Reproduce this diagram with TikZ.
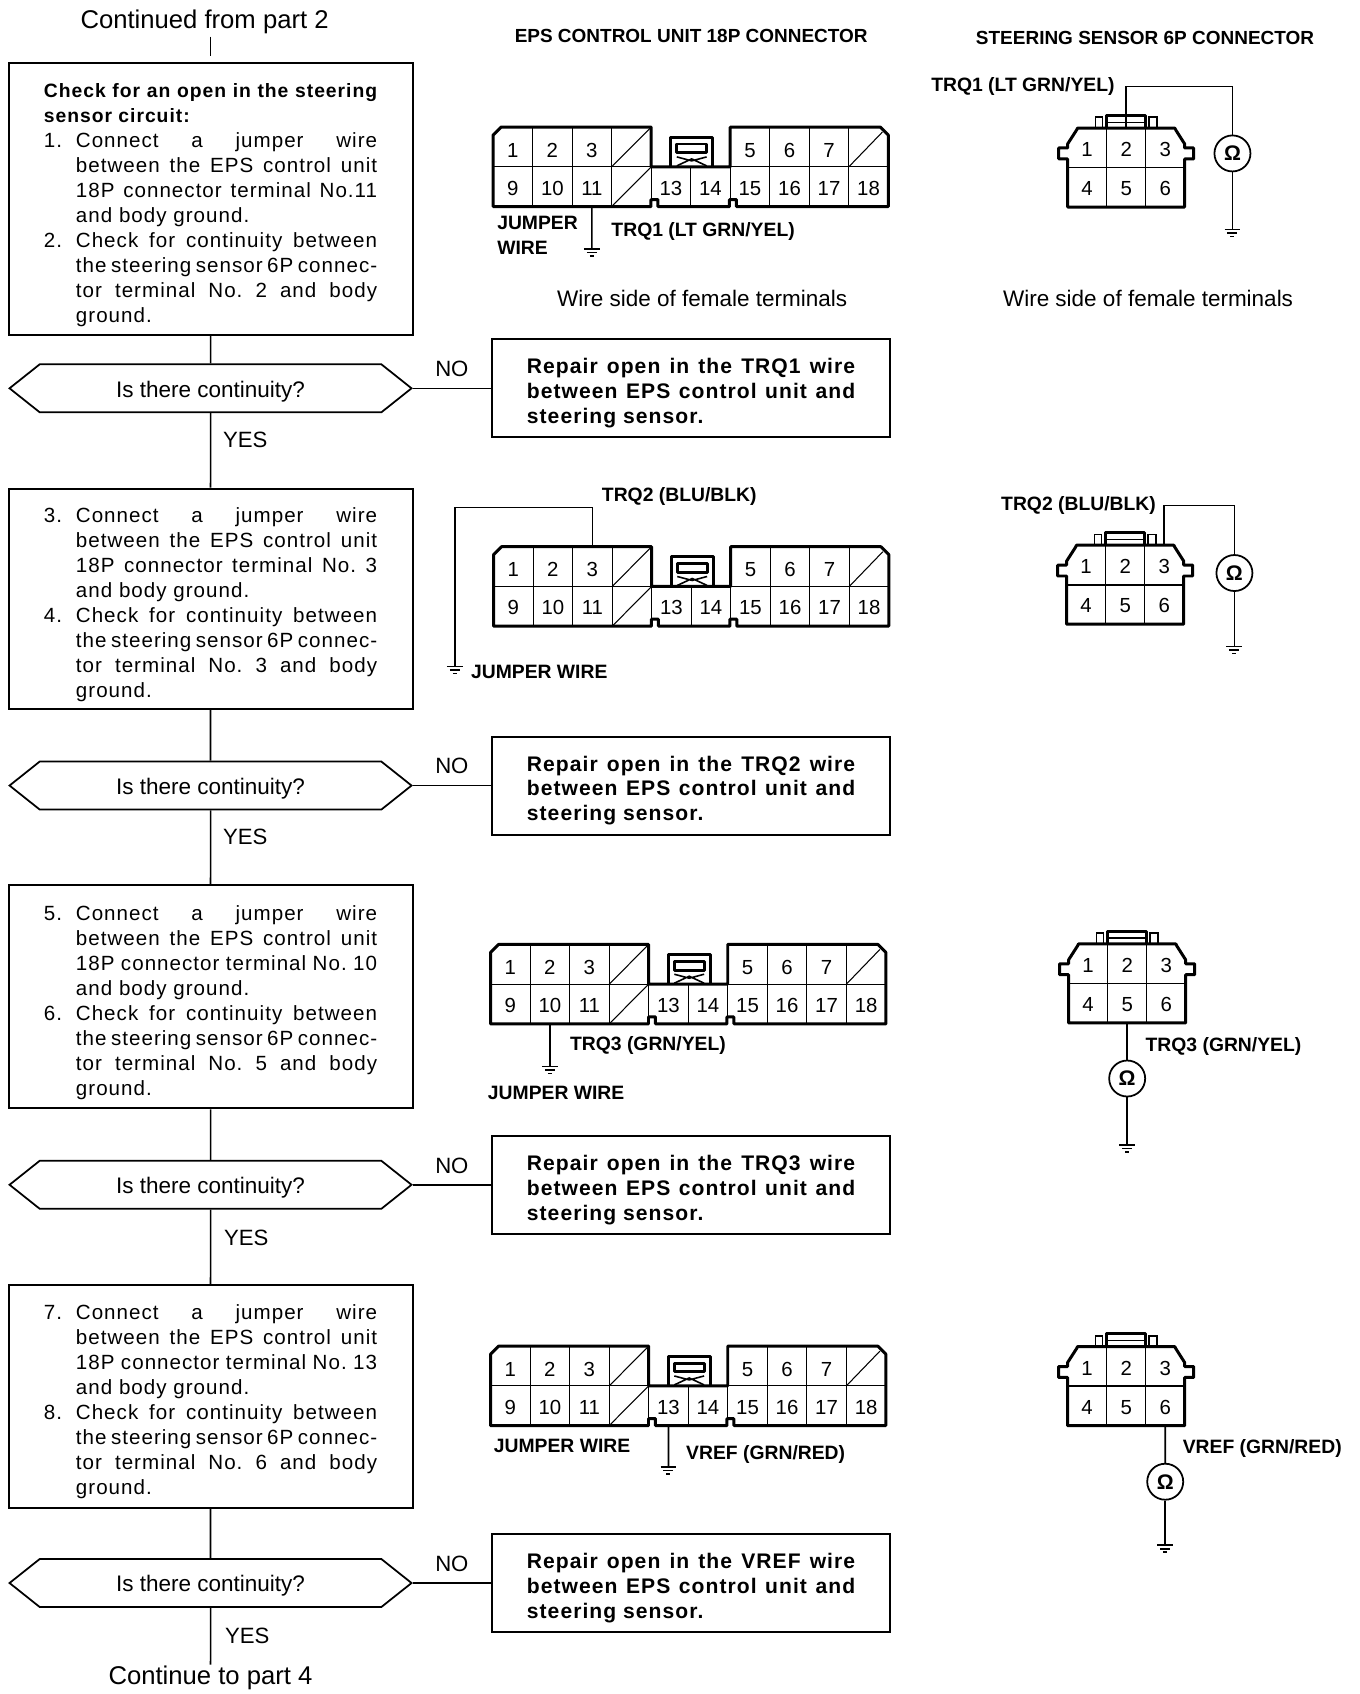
\documentclass[tikz,border=0pt]{standalone}
\usepackage{fontspec}
\setmainfont{Liberation Sans}
\newfontfamily\stepfont[LetterSpace=5]{Liberation Sans}
\usetikzlibrary{shapes.symbols}
\newcommand{\fitl}[1]{\makebox[85.7pt][s]{#1}}
\newcommand{\fith}[1]{\makebox[94.8pt][s]{\fontsize{5.5}{7.11}\selectfont\bfseries #1}}
\newcommand{\fitr}[1]{\makebox[93.4pt][s]{#1}}
\newenvironment{steplines}{\begin{tabular}{@{}p{9.1pt}@{}l@{}}\noalign{\vskip3.4pt}}{\end{tabular}}
\newenvironment{repairlines}{\begin{tabular}{@{}l@{}}\noalign{\vskip3.1pt}}{\end{tabular}}
\tikzset{
	wire/.style={line width=0.45pt},
	frame/.style={line width=0.85pt, line join=round},
	fine/.style={line width=0.3pt},
	stepbox/.style={draw, line width=0.55pt, minimum width=4.04cm, inner sep=0pt,
		font=\stepfont\fontsize{5.85}{7.11}\selectfont\frenchspacing},
	repairbox/.style={draw, line width=0.55pt, minimum width=3.98cm, minimum height=0.98cm, inner sep=0pt,
		font=\stepfont\fontsize{6}{7.11}\selectfont\bfseries\frenchspacing},
	askbox/.style={draw, line width=0.5pt, signal, signal to=west and east, signal pointer angle=77,
		minimum width=4.02cm, minimum height=0.48cm, inner sep=0pt, text height=5pt, text depth=0pt,
		font=\fontsize{6.4}{8}\selectfont},
	flowlbl/.style={font=\fontsize{6.3}{8}\selectfont, inner sep=0pt},
	endlbl/.style={font=\fontsize{7.3}{9}\selectfont, inner sep=0pt},
	lbl/.style={font=\fontsize{5.5}{7.2}\selectfont\bfseries, inner sep=0pt, yshift=-0.55pt},
	headlbl/.style={font=\fontsize{5.4}{7.2}\selectfont\bfseries, inner sep=0pt},
	sidelbl/.style={font=\fontsize{6.4}{8}\selectfont, inner sep=0pt},
	cell/.style={minimum width=0.39cm, minimum height=0.395cm, inner sep=0pt,
		font=\fontsize{5.8}{7}\selectfont},
	ohm/.style={draw, circle, line width=0.5pt, minimum size=0.36cm, inner sep=0pt,
		font=\fontsize{6}{7}\selectfont\bfseries},
	gnd/.pic={\draw[wire] (-0.08,0) -- (0.08,0) (-0.05,0.035) -- (0.05,0.035) (-0.02,0.07) -- (0.02,0.07);}
}
% 18P connector: name, left, top
\newcommand{\epsconn}[3]{
	\begin{scope}[shift={(#2,#3)}]
		\foreach \pin/\col in {1/0,2/1,3/2,5/6,6/7,7/8}
			\node[cell] (#1p\pin) at ({0.199+\col*0.398},0.2) {\raisebox{-2.93pt}[0pt][0pt]{\pin}};
		\foreach \pin/\col in {9/0,10/1,11/2,13/4,14/5,15/6,16/7,17/8,18/9}
			\node[cell] (#1p\pin) at ({0.199+\col*0.398},0.6) {\raisebox{-2.4pt}[0pt][0pt]{\pin}};
		\foreach \col in {1,2,3,7,8,9}
			\draw[fine] ({\col*0.398},0) -- ({\col*0.398},0.4);
		\foreach \col in {1,...,9}
			\draw[fine] ({\col*0.398},0.4) -- ({\col*0.398},0.8);
		\draw[fine] (0,0.4) -- (3.98,0.4);
		\draw[fine] (1.194,0.4) -- (1.592,0) (1.194,0.8) -- (1.592,0.4) (3.582,0.4) -- (3.92,0.05);
		\draw[frame] (0,0.8) -- (0,0.08) -- (0.08,0) -- (1.592,0) -- (1.592,0.4) -- (2.388,0.4) -- (2.388,0)
			-- (3.9,0) -- (3.98,0.08) -- (3.98,0.8) -- (2.45,0.8) -- (2.45,0.73) -- (2.38,0.73) -- (2.38,0.8)
			-- (1.66,0.8) -- (1.66,0.73) -- (1.59,0.73) -- (1.59,0.8) -- cycle;
		\draw[frame] (1.79,0.4) -- (1.79,0.1) -- (2.21,0.1) -- (2.21,0.4);
		\draw[frame] (1.85,0.17) rectangle (2.15,0.26);
		\draw[wire] (1.85,0.39) -- (2,0.32) -- (2.15,0.39) (1.85,0.3) -- (2,0.34) -- (2.15,0.3);
	\end{scope}
}
% 6P connector: name, left, top
\newcommand{\sensconn}[3]{
	\begin{scope}[shift={(#2,#3)}]
		\foreach \pin/\col in {1/0,2/1,3/2}
			\node[cell] (#1p\pin) at ({0.197+\col*0.393},0.199) {\raisebox{-2.5pt}[0pt][0pt]{\pin}};
		\foreach \pin/\col in {4/0,5/1,6/2}
			\node[cell] (#1p\pin) at ({0.197+\col*0.393},0.597) {\raisebox{-2.4pt}[0pt][0pt]{\pin}};
		\draw[fine] (0.393,0) -- (0.393,0.795) (0.786,0) -- (0.786,0.795);
		\draw[wire] (0,0.398) -- (1.179,0.398);
		\draw[frame] (0,0.795) -- (0,0.31) -- (-0.09,0.31) -- (-0.09,0.2) -- (0,0.2) -- (0,0.16) -- (0.09,0.02) -- (0.1,0)
			-- (1.08,0) -- (1.09,0.02) -- (1.179,0.16) -- (1.179,0.2) -- (1.269,0.2) -- (1.269,0.31) -- (1.179,0.31)
			-- (1.179,0.795) -- cycle;
		\draw[frame] (0.393,0) -- (0.393,-0.13) -- (0.786,-0.13) -- (0.786,0);
		\draw[fine] (0.393,-0.06) -- (0.786,-0.06);
		\draw[wire] (0.28,0) -- (0.28,-0.11) -- (0.35,-0.11) -- (0.35,0) (0.82,0) -- (0.82,-0.11) -- (0.9,-0.11) -- (0.9,0);
	\end{scope}
}
\begin{document}
\begin{tikzpicture}[x=0.9931cm, y=-0.9931cm]
	\useasboundingbox (0,0) rectangle (13.6945,17.0577);
	% left column
	\node[endlbl] (from) at (2.06,0.22) {Continued from part 2};
	\coordinate (start) at (2.12,0.37);
	\node[stepbox, minimum height=2.72cm] (S1) at (2.12,2) {\begin{steplines}
		\multicolumn{2}{@{}l@{}}{\fith{Check for an open in the steering}}\\
		\multicolumn{2}{@{}l@{}}{\fontsize{5.5}{7.11}\selectfont\bfseries sensor circuit:}\\
		1. & \fitl{Connect a jumper wire}\\
		& \fitl{between the EPS control unit}\\
		& \fitl{18P connector terminal No.11}\\
		& and body ground.\\
		2. & \fitl{Check for continuity between}\\
		& \fitl{the steering sensor 6P connec-}\\
		& \fitl{tor terminal No. 2 and body}\\
		& ground.
	\end{steplines}};
	\node[askbox] (A1) at (2.12,3.91) {Is there continuity?};
	\node[flowlbl] (Y1) at (2.47,4.43) {YES};
	\node[flowlbl] (N1) at (4.55,3.71) {NO};
	\node[repairbox] (R1) at (6.958,3.91) {\begin{repairlines}
		\fitr{Repair open in the TRQ1 wire}\\
		\fitr{between EPS control unit and}\\
		steering sensor.
	\end{repairlines}};
	\node[stepbox, minimum height=2.205cm] (S2) at (2.12,6.03) {\begin{steplines}
		3. & \fitl{Connect a jumper wire}\\
		& \fitl{between the EPS control unit}\\
		& \fitl{18P connector terminal No. 3}\\
		& and body ground.\\
		4. & \fitl{Check for continuity between}\\
		& \fitl{the steering sensor 6P connec-}\\
		& \fitl{tor terminal No. 3 and body}\\
		& ground.
	\end{steplines}};
	\node[askbox] (A2) at (2.12,7.91) {Is there continuity?};
	\node[flowlbl] (Y2) at (2.47,8.43) {YES};
	\node[flowlbl] (N2) at (4.55,7.71) {NO};
	\node[repairbox] (R2) at (6.958,7.91) {\begin{repairlines}
		\fitr{Repair open in the TRQ2 wire}\\
		\fitr{between EPS control unit and}\\
		steering sensor.
	\end{repairlines}};
	\node[stepbox, minimum height=2.235cm] (S3) at (2.12,10.035) {\begin{steplines}
		5. & \fitl{Connect a jumper wire}\\
		& \fitl{between the EPS control unit}\\
		& \fitl{18P connector terminal No. 10}\\
		& and body ground.\\
		6. & \fitl{Check for continuity between}\\
		& \fitl{the steering sensor 6P connec-}\\
		& \fitl{tor terminal No. 5 and body}\\
		& ground.
	\end{steplines}};
	\node[askbox] (A3) at (2.12,11.93) {Is there continuity?};
	\node[flowlbl] (Y3) at (2.48,12.46) {YES};
	\node[flowlbl] (N3) at (4.55,11.74) {NO};
	\node[repairbox] (R3) at (6.958,11.93) {\begin{repairlines}
		\fitr{Repair open in the TRQ3 wire}\\
		\fitr{between EPS control unit and}\\
		steering sensor.
	\end{repairlines}};
	\node[stepbox, minimum height=2.225cm] (S4) at (2.12,14.06) {\begin{steplines}
		7. & \fitl{Connect a jumper wire}\\
		& \fitl{between the EPS control unit}\\
		& \fitl{18P connector terminal No. 13}\\
		& and body ground.\\
		8. & \fitl{Check for continuity between}\\
		& \fitl{the steering sensor 6P connec-}\\
		& \fitl{tor terminal No. 6 and body}\\
		& ground.
	\end{steplines}};
	\node[askbox] (A4) at (2.12,15.94) {Is there continuity?};
	\node[flowlbl] (Y4) at (2.49,16.47) {YES};
	\node[flowlbl] (N4) at (4.55,15.75) {NO};
	\node[repairbox] (R4) at (6.958,15.94) {\begin{repairlines}
		\fitr{Repair open in the VREF wire}\\
		\fitr{between EPS control unit and}\\
		steering sensor.
	\end{repairlines}};
	\node[endlbl] (to) at (2.12,16.89) {Continue to part 4};
	\draw[wire, shorten >=0.06cm] (start) -- (S1.north);
	\draw[wire] (S1) -- (A1);
	\draw[wire] (A1) -- (S2);
	\draw[wire] (S2) -- (A2);
	\draw[wire] (A2) -- (S3);
	\draw[wire] (S3) -- (A3);
	\draw[wire] (A3) -- (S4);
	\draw[wire] (S4) -- (A4);
	\draw[wire] (A4) -- (to);
	\draw[wire] (A1.east) -- (R1.west);
	\draw[wire] (A2.east) -- (R2.west);
	\draw[wire] (A3.east) -- (R3.west);
	\draw[wire] (A4.east) -- (R4.west);
	% headings
	\node[headlbl] (T1) at (6.96,0.36) {EPS CONTROL UNIT 18P CONNECTOR};
	\node[headlbl] (T2) at (11.53,0.38) {STEERING SENSOR 6P CONNECTOR};
	\node[sidelbl] (W1) at (7.07,3.01) {Wire side of female terminals};
	\node[sidelbl] (W2) at (11.56,3.01) {Wire side of female terminals};
	% 18P connectors
	\epsconn{E1}{4.965}{1.28}
	\epsconn{E2}{4.97}{5.505}
	\epsconn{E3}{4.94}{9.51}
	\epsconn{E4}{4.94}{13.555}
	\coordinate (g1) at (5.96,2.507);
	\coordinate (g2) at (4.58,6.71);
	\coordinate (b2) at (4.58,5.11);
	\coordinate (g3) at (5.537,10.74);
	\coordinate (g4) at (6.731,14.77);
	\draw[wire] (E1p11.south) -- (g1);
	\draw[wire] (E2p3.north) |- (b2) -- (g2);
	\draw[wire] (E3p10.south) -- (g3);
	\draw[wire] (E4p13.south) -- (g4);
	\pic at (g1) {gnd};
	\pic at (g2) {gnd};
	\pic at (g3) {gnd};
	\pic at (g4) {gnd};
	\node[lbl, align=left, anchor=west] (J1) at (5,2.35) {JUMPER\\WIRE};
	\node[lbl] (Q1) at (7.08,2.31) {TRQ1 (LT GRN/YEL)};
	\node[lbl] (Q2) at (6.84,4.98) {TRQ2 (BLU/BLK)};
	\node[lbl] (J2) at (5.43,6.75) {JUMPER WIRE};
	\node[lbl] (Q3) at (6.525,10.51) {TRQ3 (GRN/YEL)};
	\node[lbl] (J3) at (5.6,10.99) {JUMPER WIRE};
	\node[lbl] (J4) at (5.66,14.54) {JUMPER WIRE};
	\node[lbl] (V1) at (7.71,14.63) {VREF (GRN/RED)};
	% 6P connectors
	\sensconn{C1}{10.75}{1.29}
	\sensconn{C2}{10.74}{5.49}
	\sensconn{C3}{10.76}{9.505}
	\sensconn{C4}{10.75}{13.56}
	\node[ohm] (M1) at (12.41,1.545) {Ω};
	\node[ohm] (M2) at (12.43,5.77) {Ω};
	\node[ohm] (M3) at (11.35,10.86) {Ω};
	\node[ohm] (M4) at (11.733,14.92) {Ω};
	\coordinate (t1) at (12.41,0.87);
	\coordinate (t2) at (12.43,5.09);
	\coordinate (h1) at (12.41,2.31);
	\coordinate (h2) at (12.43,6.51);
	\coordinate (h3) at (11.35,11.53);
	\coordinate (h4) at (11.733,15.56);
	\draw[wire] (C1p2.north) |- (t1) -- (M1);
	\draw[wire] (M1) -- (h1);
	\draw[wire] (C2p3.north) |- (t2) -- (M2);
	\draw[wire] (M2) -- (h2);
	\draw[wire] (C3p5.south) -- (M3);
	\draw[wire] (M3) -- (h3);
	\draw[wire] (C4p6.south) -- (M4);
	\draw[wire] (M4) -- (h4);
	\pic at (h1) {gnd};
	\pic at (h2) {gnd};
	\pic at (h3) {gnd};
	\pic at (h4) {gnd};
	\node[lbl] (Q4) at (10.3,0.85) {TRQ1 (LT GRN/YEL)};
	\node[lbl] (Q5) at (10.86,5.07) {TRQ2 (BLU/BLK)};
	\node[lbl] (Q6) at (12.32,10.52) {TRQ3 (GRN/YEL)};
	\node[lbl] (V2) at (12.71,14.57) {VREF (GRN/RED)};
\end{tikzpicture}
\end{document}
